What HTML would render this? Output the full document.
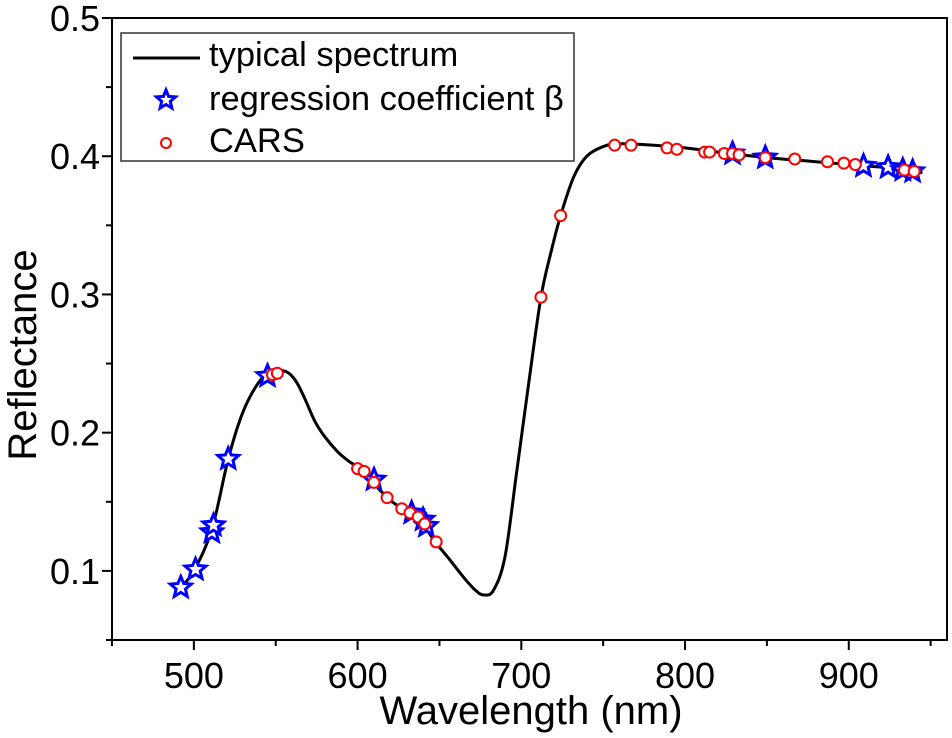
<!DOCTYPE html>
<html><head><meta charset="utf-8"><style>
html,body{margin:0;padding:0;background:#fff;}
svg{display:block;font-family:"Liberation Sans",Arial,sans-serif;}
</style></head><body>
<svg id="chart" width="952" height="738">
<g id="axes"></g><g id="marks"></g><g id="legend"></g>
</svg>
<script>
const specWl=[490,492,500,511,521,530,540,547,553,558,563,568,574,580,588,595,600,610,620,630,640,648,655,665,672,677,683,690,697,705,712,718,724,732,740,750,760,780,800,820,850,880,910,930,945];
const specR=[0.085,0.088,0.100,0.130,0.181,0.215,0.237,0.243,0.245,0.243,0.236,0.224,0.208,0.197,0.186,0.179,0.175,0.163,0.151,0.143,0.133,0.120,0.110,0.095,0.086,0.0826,0.086,0.110,0.170,0.240,0.298,0.330,0.357,0.385,0.400,0.407,0.409,0.408,0.406,0.403,0.399,0.396,0.393,0.391,0.388];
const starWl=[492,501,511,512,521,545,610,633,640,642,829,849,909,924,933,939];
const starR=[0.088,0.101,0.128,0.133,0.181,0.241,0.166,0.142,0.137,0.1325,0.402,0.399,0.393,0.392,0.390,0.389];
const carsWl=[548,551,600,604,610,618,627,632,637,641,648,712,724,757,767,789,795,812,815,824,829,833,849,867,887,897,904,934,940];
const carsR=[0.242,0.243,0.174,0.172,0.164,0.153,0.145,0.142,0.139,0.134,0.121,0.298,0.357,0.408,0.408,0.406,0.405,0.403,0.403,0.402,0.402,0.401,0.399,0.398,0.396,0.395,0.394,0.390,0.389];
const xTicks=[500,600,700,800,900];
const yTicks=[0.1,0.2,0.3,0.4,0.5];

const NS="http://www.w3.org/2000/svg";
const L=112,R=947,T=18,B=640,X0=450,X1=960,Y0=0.05,Y1=0.5;
const sx=v=>L+(v-X0)/(X1-X0)*(R-L);
const sy=v=>B-(v-Y0)/(Y1-Y0)*(B-T);
function mk(tag,attrs,parent){const e=document.createElementNS(NS,tag);for(const k in attrs)e.setAttribute(k,attrs[k]);parent.appendChild(e);return e;}
const axes=document.getElementById('axes'),marks=document.getElementById('marks'),leg=document.getElementById('legend');

const frame=mk('rect',{x:L,y:T,width:R-L,height:B-T,fill:'none',stroke:'#000','stroke-width':2},axes);


for(let v=450;v<=950;v+=50){
  const t=mk('line',{x1:sx(v),x2:sx(v),y1:B,y2:B+(v%100===0?10:6),stroke:'#000','stroke-width':2},axes);
  
  
}
xTicks.forEach(v=>{
  const t=mk('text',{x:sx(v),y:688,'text-anchor':'middle','font-size':36},axes);t.textContent=v;
  
  
});
for(let v=0.05;v<=0.5001;v+=0.05){
  const major=Math.abs(Math.round(v*10)-v*10)<1e-6;
  const t=mk('line',{x1:L-(major?10:6),x2:L,y1:sy(v),y2:sy(v),stroke:'#000','stroke-width':2},axes);
  
  
}
yTicks.forEach(v=>{
  const t=mk('text',{x:L-12,y:sy(v)+13,'text-anchor':'end','font-size':36},axes);t.textContent=v.toFixed(1);
  
  
});
const xt=mk('text',{x:531,y:724,'text-anchor':'middle','font-size':40},axes);xt.textContent='Wavelength (nm)';


const yt=mk('text',{x:0,y:0,'text-anchor':'middle','font-size':40,transform:`translate(36,355) rotate(-90)`},axes);yt.textContent='Reflectance';



const pts=specWl.map((w,i)=>[sx(w),sy(specR[i])]);
let d=`M${pts[0][0]},${pts[0][1]}`;
for(let i=0;i<pts.length-1;i++){
  const p0=pts[Math.max(0,i-1)],p1=pts[i],p2=pts[i+1],p3=pts[Math.min(pts.length-1,i+2)];
  const c1=[p1[0]+(p2[0]-p0[0])/6,p1[1]+(p2[1]-p0[1])/6],c2=[p2[0]-(p3[0]-p1[0])/6,p2[1]-(p3[1]-p1[1])/6];
  d+=` C${c1[0]},${c1[1]} ${c2[0]},${c2[1]} ${p2[0]},${p2[1]}`;
}
const line=mk('path',{d:d,fill:'none',stroke:'#000','stroke-width':3},marks);



function starPath(cx,cy,r){let s='';for(let k=0;k<10;k++){const a=-Math.PI/2+k*Math.PI/5,rr=k%2?r*0.45:r;s+=(k?'L':'M')+(cx+rr*Math.cos(a)).toFixed(1)+','+(cy+rr*Math.sin(a)).toFixed(1);}return s+'Z';}
starWl.forEach((w,i)=>{
  const s=mk('path',{d:starPath(sx(w),sy(starR[i]),11),fill:'#fff',stroke:'#0000ff','stroke-width':3,'stroke-linejoin':'miter'},marks);
  
  
});
carsWl.forEach((w,i)=>{
  const c=mk('circle',{cx:sx(w),cy:sy(carsR[i]),r:5.5,fill:'#fff',stroke:'#ff0000','stroke-width':2},marks);
  
  
});

const lb=mk('rect',{x:121,y:33,width:453,height:128,fill:'#fff',stroke:'#333','stroke-width':1.5},leg);


const ll=mk('line',{x1:133,x2:200,y1:58,y2:58,stroke:'#000','stroke-width':3},leg);


const ls=mk('path',{d:starPath(166,100,10),fill:'#fff',stroke:'#0000ff','stroke-width':3},leg);


const lc=mk('circle',{cx:166,cy:143,r:5,fill:'#fff',stroke:'#ff0000','stroke-width':2},leg);


[['typical spectrum',66,'legend-entry-spectrum'],['regression coefficient β',110,'legend-entry-regression'],['CARS',152,'legend-entry-cars']].forEach(e=>{
  const t=mk('text',{x:209,y:e[1],'font-size':34.5},leg);t.textContent=e[0];
  
  
});
</script>
</body></html>
